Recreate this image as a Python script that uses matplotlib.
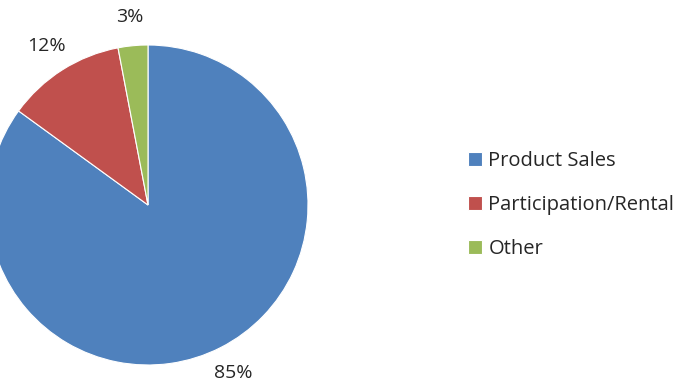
import matplotlib
matplotlib.use("Agg")
import matplotlib.pyplot as plt

labels = ["Product Sales", "Participation/Rental", "Other"]
values = [85, 12, 3]
colors = ["#4F81BD", "#C0504D", "#9BBB59"]

plt.rcParams['font.family'] = ['Open Sans', 'DejaVu Sans']

fig = plt.figure(figsize=(6.82, 3.82), dpi=100)
ax = fig.add_axes([0, 0, 1, 1])

wedges, texts, autotexts = ax.pie(
    values, colors=colors, startangle=90, counterclock=False,
    center=(148, 177), radius=160, frame=True,
    autopct='%1.0f%%', pctdistance=1.18,
    wedgeprops=dict(edgecolor='white', linewidth=0.8),
    textprops=dict(fontsize=14, color='#262626'))

ax.set_xlim(0, 682)
ax.set_ylim(0, 382)
ax.set_aspect('auto')
ax.axis('off')

fig.legend(wedges, labels, loc='center left', bbox_to_anchor=(0.66, 0.463),
           frameon=False, fontsize=14.5, handlelength=0.7, handleheight=0.7,
           handletextpad=0.3, labelspacing=1.2, labelcolor='#262626')

fig.savefig('out.png', dpi=100)
